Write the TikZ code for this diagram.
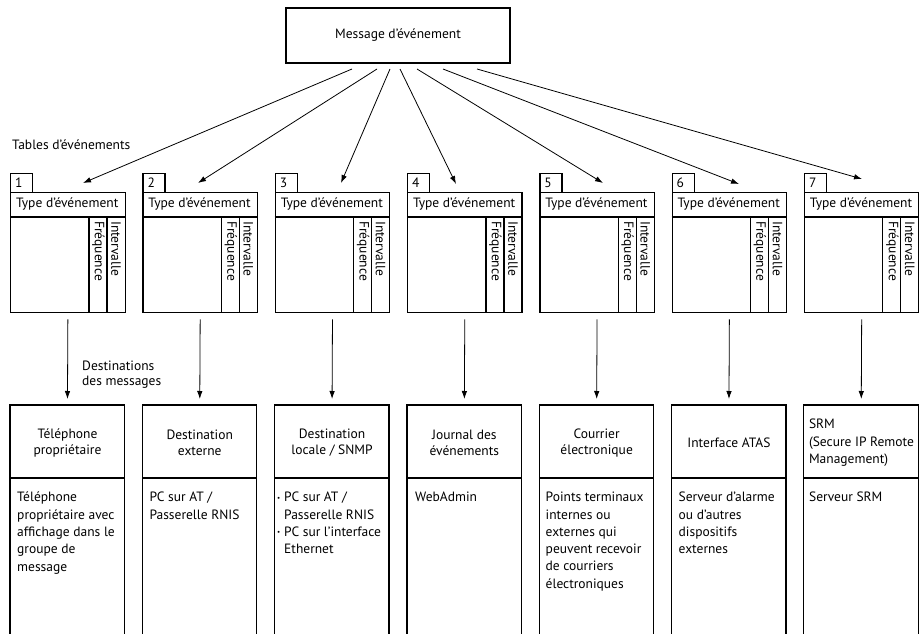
\documentclass[tikz,border=0pt]{standalone}
\usepackage{fontspec}
\setmainfont{PT Sans}
\usetikzlibrary{arrows.meta}
\begin{document}
\begin{tikzpicture}[x=1pt,y=-1pt,
  line/.style={line width=1.3pt},
  arr/.style={line width=0.8pt,-{Latex[length=8pt,width=5.5pt]}},
  txt/.style={font=\fontsize{13.5}{15.5}\selectfont,inner sep=0pt},
  bodytxt/.style={font=\fontsize{13.5}{17.3}\selectfont,inner sep=0pt,align=left,anchor=north west},
  tbl/.style={draw,line width=1.3pt,minimum width=114.5pt,minimum height=120pt,inner sep=0pt,anchor=north west},
  numbox/.style={draw,line width=1.3pt,minimum width=22pt,minimum height=19pt,inner sep=0pt,anchor=north west},
  hdr/.style={minimum width=114.5pt,minimum height=73pt,inner sep=0pt,anchor=north west},
  hdrtxt/.style={font=\fontsize{13.5}{16}\selectfont,align=center,inner sep=0pt},
  vert/.style={font=\fontsize{13.5}{15}\selectfont,inner sep=0pt,rotate=-90,anchor=west}
]
\useasboundingbox (0,0) rectangle (919,634);

% top message box
\node[draw,line width=1.3pt,minimum width=224pt,minimum height=55pt,inner sep=0pt,font=\fontsize{13.5}{15}\selectfont] (msg) at (398,35.5) {Message d'événement};

\node[txt,anchor=west] (tlabel) at (12,145) {Tables d'événements};
\node[txt,anchor=west,align=left] (dlabel) at (82,374.5) {Destinations\\des messages};

% tables
\foreach \i [evaluate=\i as \x using 10+132.3*(\i-1)] in {1,...,7}{
  \node[numbox] (n\i) at (\x,173) {};
  \node[txt,anchor=west] at (\x+5,182.5) {\i};
  \node[tbl] (t\i) at (\x,192) {};
  \draw[line] (\x,217) -- (\x+114.5,217);
  \draw[line] (\x+79,217) -- (\x+79,312);
  \draw[line] (\x+97,217) -- (\x+97,312);
  \node[txt] at (\x+57.25,204.5) {Type d'événement};
  \node[vert] at (\x+88.5,221) {Fréquence};
  \node[vert] at (\x+106,221) {Intervalle};
  % bottom box outline (open at the bottom)
  \draw[line] (\x,640) -- (\x,405) -- (\x+114.5,405) -- (\x+114.5,640);
  \draw[line] (\x,478) -- (\x+114.5,478);
  \node[hdr] (h\i) at (\x,405) {};
  \draw[arr,shorten <=6pt,shorten >=6pt] (t\i.south) -- (h\i.north);
}

% headers
\node[hdrtxt] at ([yshift=-1pt]h1.center) {Téléphone\\propriétaire};
\node[hdrtxt] at ([yshift=-1pt]h2.center) {Destination\\externe};
\node[hdrtxt] at ([yshift=-1pt]h3.center) {Destination\\locale / SNMP};
\node[hdrtxt] at ([yshift=-1pt]h4.center) {Journal des\\événements};
\node[hdrtxt] at ([yshift=-1pt]h5.center) {Courrier\\électronique};
\node[hdrtxt] at ([yshift=-1pt]h6.center) {Interface ATAS};
\node[font=\fontsize{13.5}{17.5}\selectfont,align=left,anchor=west,inner sep=0pt] at ([xshift=5pt,yshift=-1pt]h7.west) {SRM\\(Secure IP Remote\\Management)};

% bodies
\node[bodytxt] (b1) at (17,492) {Téléphone\\propriétaire avec\\affichage dans le\\groupe de\\message};
\node[bodytxt] (b2) at (149.3,492) {PC sur AT /\\Passerelle RNIS};
\node[bodytxt] (b3) at (277,492) {\makebox[7pt][l]{\raisebox{1.5pt}{\scriptsize\textbullet}}PC sur AT /\\\hspace*{7pt}Passerelle RNIS\\\makebox[7pt][l]{\raisebox{1.5pt}{\scriptsize\textbullet}}PC sur l'interface\\\hspace*{7pt}Ethernet};
\node[bodytxt] (b4) at (415,492) {WebAdmin};
\node[bodytxt] (b5) at (545.5,492) {Points terminaux\\internes ou\\externes qui\\peuvent recevoir\\de courriers\\électroniques};
\node[bodytxt] (b6) at (678.5,492) {Serveur d'alarme\\ou d'autres\\dispositifs\\externes};
\node[bodytxt] (b7) at (809,492) {Serveur SRM};

% arrows from message to tables
\coordinate (s1) at (352,69);  \coordinate (e1) at (83,183);
\coordinate (s2) at (377,69);  \coordinate (e2) at (198,183);
\coordinate (s3) at (390,69);  \coordinate (e3) at (341,183);
\coordinate (s4) at (400,69);  \coordinate (e4) at (456,184);
\coordinate (s5) at (417,69);  \coordinate (e5) at (603,183);
\coordinate (s6) at (443,69);  \coordinate (e6) at (739,184);
\coordinate (s7) at (477,69);  \coordinate (e7) at (862,179);
\foreach \i in {1,...,7}{\draw[arr] (s\i) -- (e\i);}
\end{tikzpicture}
\end{document}
